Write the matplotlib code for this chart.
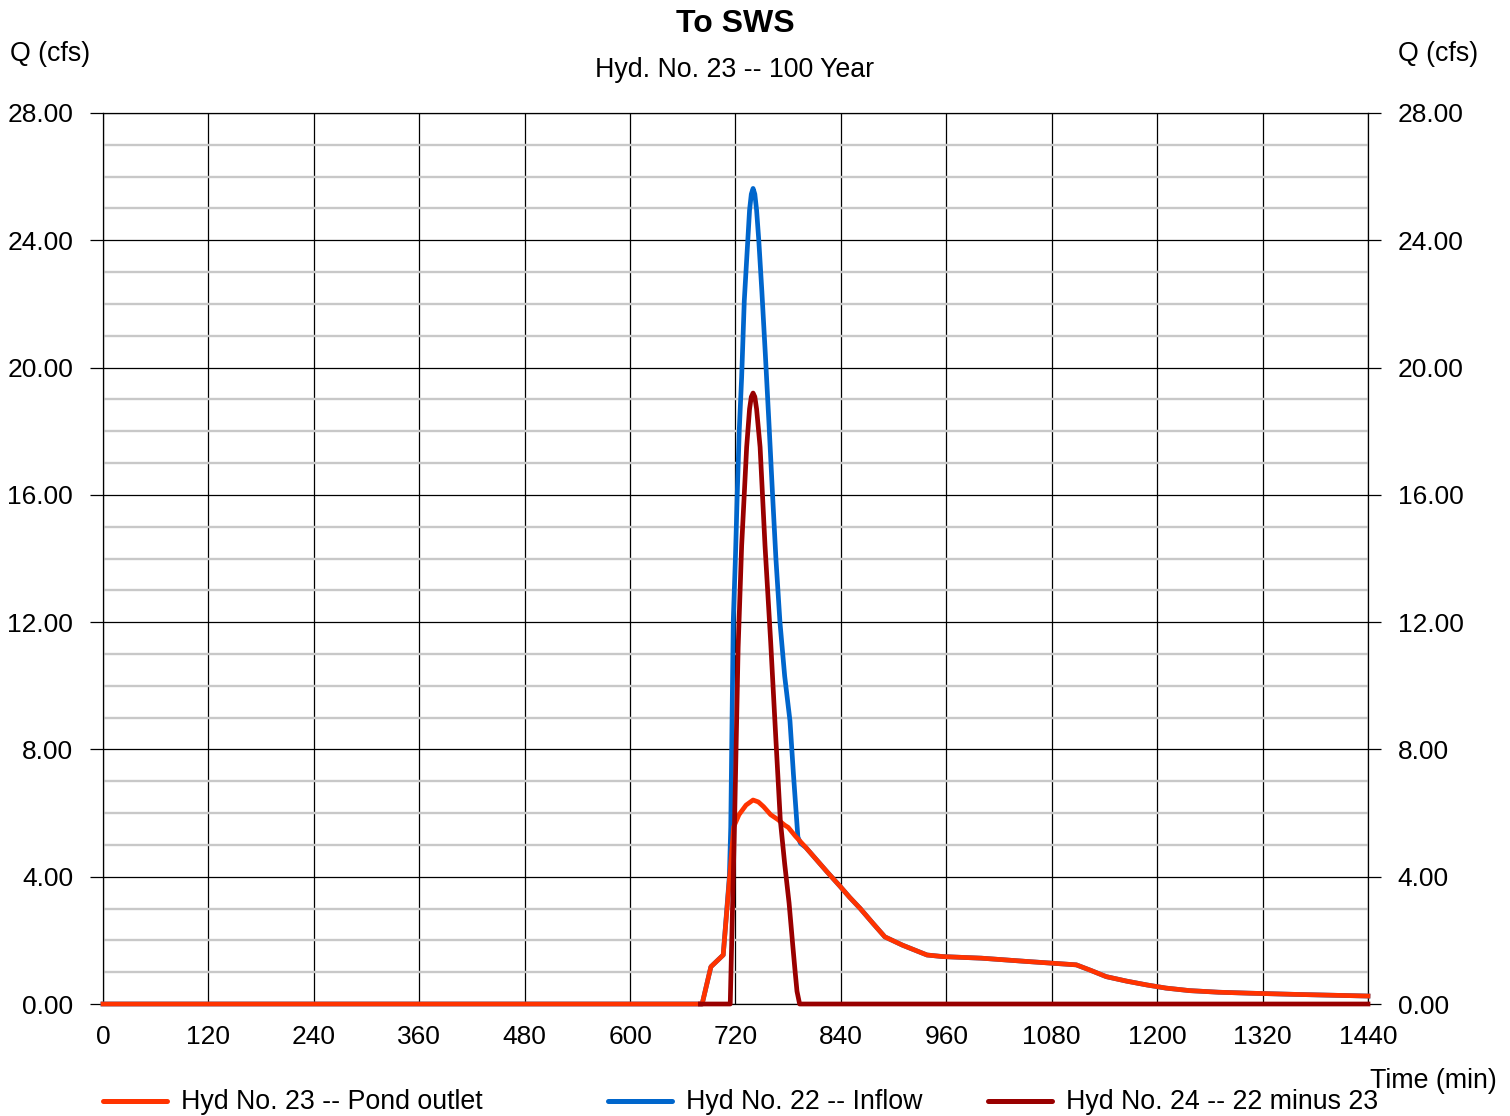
import matplotlib
matplotlib.use("Agg")
import matplotlib.pyplot as plt
from matplotlib.lines import Line2D
from matplotlib.ticker import MultipleLocator, FormatStrFormatter

plt.rcParams['font.family'] = ['Liberation Sans', 'DejaVu Sans']

# ---- data ----
outlet_t = [0, 682, 692, 706, 718, 724, 732, 740, 746, 752, 760, 768, 776, 780, 788,
            800, 812, 824, 839, 850, 862, 876, 890, 910, 938, 956, 1000, 1050, 1108,
            1125, 1142, 1165, 1188, 1210, 1237, 1270, 1305, 1360, 1440]
outlet_q = [0, 0, 1.17, 1.54, 5.57, 5.95, 6.25, 6.41, 6.35, 6.20, 5.95, 5.80, 5.62, 5.55, 5.28,
            4.92, 4.54, 4.16, 3.70, 3.35, 3.00, 2.55, 2.11, 1.85, 1.54, 1.49, 1.44, 1.34, 1.23,
            1.05, 0.86, 0.72, 0.60, 0.50, 0.42, 0.37, 0.34, 0.30, 0.25]

inflow_t = [0, 682, 692, 706, 713, 714.6, 716, 717.5, 720, 722, 724.3, 727, 730, 734, 736, 738, 740,
            742, 744, 746.5, 750, 754, 758, 762, 766, 770.6, 776, 782, 786, 791, 794,
            800, 812, 824, 839, 850, 862, 876, 890, 910, 938, 956, 1000, 1050, 1108,
            1125, 1142, 1165, 1188, 1210, 1237, 1270, 1305, 1360, 1440]
inflow_q = [0, 0, 1.17, 1.54, 4.0, 5.56, 8.8, 12.07, 14.1, 16.05, 18.04, 19.7, 22.1, 24.0, 24.95, 25.45, 25.63,
            25.45, 24.95, 24.0, 22.4, 20.4, 18.3, 16.1, 14.0, 12.0, 10.3, 8.9, 7.2, 5.25, 5.05,
            4.92, 4.54, 4.16, 3.70, 3.35, 3.00, 2.55, 2.11, 1.85, 1.54, 1.49, 1.44, 1.34, 1.23,
            1.05, 0.86, 0.72, 0.60, 0.50, 0.42, 0.37, 0.34, 0.30, 0.25]

diff_t = [680, 714, 719, 723, 727, 732.7, 736, 738, 740, 742, 744, 748, 753.6, 760, 766, 771, 776,
          781, 785, 787.7, 790, 793, 1440]
diff_q = [0, 0, 5.8, 11.2, 14.4, 17.5, 18.7, 19.08, 19.2, 19.08, 18.7, 17.5, 14.4, 11.4, 8.3, 5.78, 4.4,
          3.17, 1.9, 1.07, 0.4, 0, 0]

x_ticks = [0, 120, 240, 360, 480, 600, 720, 840, 960, 1080, 1200, 1320, 1440]
labels = ["Hyd No. 23 -- Pond outlet", "Hyd No. 22 -- Inflow", "Hyd No. 24 -- 22 minus 23"]
colors = ["#FF3300", "#0066CC", "#990000"]

W, H = 1510, 1116
fig = plt.figure(figsize=(W / 100, H / 100), dpi=100)
L, R, T, B = 103, 1368, 113, 1004
ax = fig.add_axes([L / W, 1 - B / H, (R - L) / W, (B - T) / H])

ax.set_xlim(0, 1440)
ax.set_ylim(0, 28)
ax.xaxis.set_major_locator(plt.FixedLocator(x_ticks))
ax.yaxis.set_major_locator(MultipleLocator(4))
ax.yaxis.set_minor_locator(MultipleLocator(1))
ax.yaxis.set_major_formatter(FormatStrFormatter('%.2f'))

ax.grid(which='minor', axis='y', color='#C8C8C8', lw=1.7, zorder=0)
ax.grid(which='major', axis='y', color='#000000', lw=0.9, zorder=1)
ax.grid(which='major', axis='x', color='#000000', lw=0.9, zorder=1)
ax.set_axisbelow(True)

for s in ax.spines.values():
    s.set_color('#000000')
    s.set_linewidth(0.9)

ax.tick_params(axis='y', which='major', direction='out', length=9.5, width=0.9,
               left=True, right=True, labelleft=True, labelright=True,
               labelsize=19, pad=12)
ax.tick_params(axis='y', which='minor', length=0)
ax.tick_params(axis='x', which='major', length=0, labelsize=19, pad=15)

lw = 3.4
ax.plot(inflow_t, inflow_q, color=colors[1], lw=lw, zorder=3, clip_on=False, solid_joinstyle='round')
ax.plot(outlet_t, outlet_q, color=colors[0], lw=lw, zorder=4, clip_on=False, solid_joinstyle='round')
ax.plot(diff_t, diff_q, color=colors[2], lw=lw, zorder=5, clip_on=False, solid_joinstyle='round')

# titles / labels
fig.text(735 / W, 1 - 24 / H, "To SWS", ha='center', va='center', fontsize=23, fontweight='bold')
fig.text(735 / W, 1 - 70 / H, "Hyd. No. 23 -- 100 Year", ha='center', va='center', fontsize=19.3)
fig.text(10 / W, 1 - 54 / H, "Q (cfs)", ha='left', va='center', fontsize=19.3)
fig.text(1398 / W, 1 - 54 / H, "Q (cfs)", ha='left', va='center', fontsize=19.3)
fig.text(1370 / W, 1 - 1081 / H, "Time (min)", ha='left', va='center', fontsize=19.3)

# legend
leg_x = [103, 608, 988]
for xs, i in zip(leg_x, [0, 1, 2]):
    fig.add_artist(Line2D([xs / W, (xs + 64) / W], [1 - 1101 / H, 1 - 1101 / H],
                          color=colors[i], lw=3.6, solid_capstyle='round'))
    fig.text((xs + 78) / W, 1 - 1102 / H, labels[i], ha='left', va='center', fontsize=19.3)

fig.savefig("out.png", dpi=100)
